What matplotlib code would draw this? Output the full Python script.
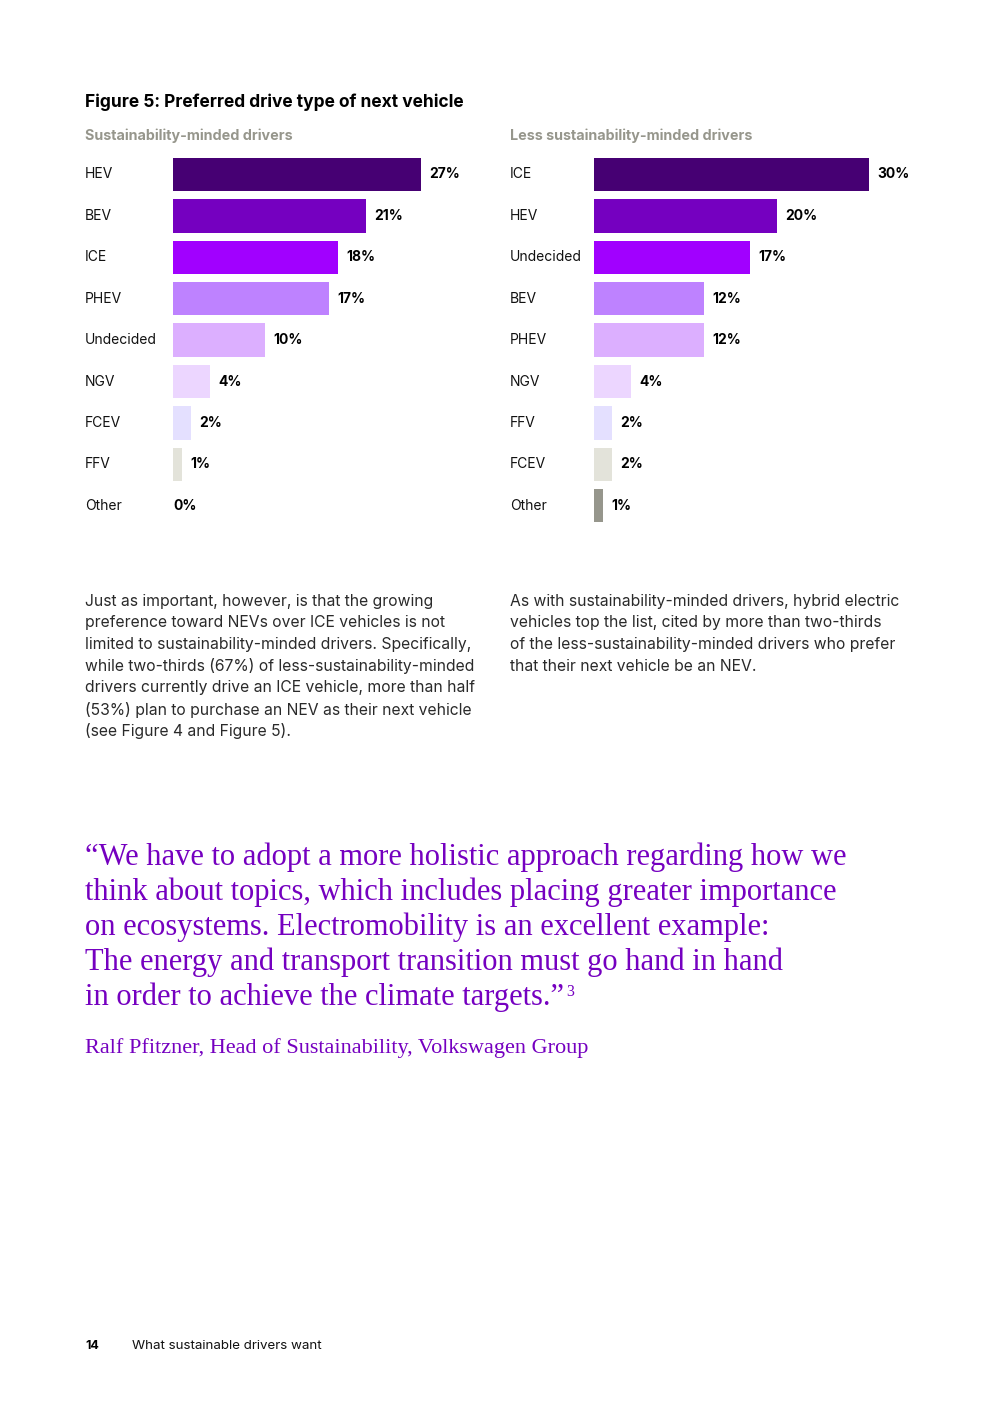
import matplotlib.pyplot as plt

W, H = 992, 1403

# data
left_cats = ["HEV", "BEV", "ICE", "PHEV", "Undecided", "NGV", "FCEV", "FFV", "Other"]
left_vals = [27, 21, 18, 17, 10, 4, 2, 1, 0]
right_cats = ["ICE", "HEV", "Undecided", "BEV", "PHEV", "NGV", "FFV", "FCEV", "Other"]
right_vals = [30, 20, 17, 12, 12, 4, 2, 2, 1]

left_colors = ["#460073", "#7500C0", "#A100FF", "#BE82FF", "#DCAFFF",
               "#ECD6FF", "#E4E0FF", "#E3E3DA", "#E3E3DA"]
right_colors = ["#460073", "#7500C0", "#A100FF", "#BE82FF", "#DCAFFF",
                "#ECD6FF", "#E4E0FF", "#E3E3DA", "#96968C"]

left_text = [
    "Just as important, however, is that the growing",
    "preference toward NEVs over ICE vehicles is not",
    "limited to sustainability-minded drivers. Specifically,",
    "while two-thirds (67%) of less-sustainability-minded",
    "drivers currently drive an ICE vehicle, more than half",
    "(53%) plan to purchase an NEV as their next vehicle",
    "(see Figure 4 and Figure 5).",
]
right_text = [
    "As with sustainability-minded drivers, hybrid electric",
    "vehicles top the list, cited by more than two-thirds",
    "of the less-sustainability-minded drivers who prefer",
    "that their next vehicle be an NEV.",
]
quote_lines = [
    "\u201cWe have to adopt a more holistic approach regarding how we",
    "think about topics, which includes placing greater importance",
    "on ecosystems. Electromobility is an excellent example:",
    "The energy and transport transition must go hand in hand",
    "in order to achieve the climate targets.\u201d",
]

SANS = ["Inter", "DejaVu Sans"]
SERIF = ["Liberation Serif", "DejaVu Serif"]

fig = plt.figure(figsize=(W / 100, H / 100), dpi=100)


def fx(x):
    return x / W


def fy(y):
    return 1 - y / H


def txt(x, y, s, **kw):
    kw.setdefault("family", SANS)
    kw.setdefault("va", "center")
    return fig.text(fx(x), fy(y), s, **kw)


px_per_pct = 9.17
row = 41.4


def bar_panel(x0, label_x, cats, vals, colors):
    top = 174.5 - row / 2
    ax = fig.add_axes([fx(x0), fy(top + 9 * row), 30 * px_per_pct / W, 9 * row / H])
    ys = list(range(len(cats)))
    ax.barh(ys, vals, height=0.81, color=colors)
    ax.set_xlim(0, 30)
    ax.set_ylim(len(cats) - 0.5, -0.5)
    ax.axis("off")
    for i, (c, v) in enumerate(zip(cats, vals)):
        off = 6 if v > 0 else 0
        ax.annotate(f"{v}%", (v, i), xytext=(off, 0), textcoords="offset points",
                    va="center", ha="left", fontsize=10, fontweight="bold",
                    family=SANS, color="#000000", annotation_clip=False)
        txt(label_x, 174.5 + i * row, c, fontsize=10, color="#111111")
    return ax


txt(85, 102, "Figure 5: Preferred drive type of next vehicle", fontsize=12.5,
    fontweight="bold", color="#000000")
txt(85, 136, "Sustainability-minded drivers", fontsize=10.3, fontweight="bold", color="#96968C")
txt(510, 136, "Less sustainability-minded drivers", fontsize=10.3, fontweight="bold", color="#96968C")

bar_panel(173, 85, left_cats, left_vals, left_colors)
bar_panel(594, 510, right_cats, right_vals, right_colors)

for i, line in enumerate(left_text):
    txt(85, 601 + i * 21.7, line, fontsize=11.3, color="#2a2a2a")
for i, line in enumerate(right_text):
    txt(510, 601 + i * 21.7, line, fontsize=11.3, color="#2a2a2a")

purple = "#7500C0"
for i, line in enumerate(quote_lines):
    t = txt(85, 857 + i * 35, line, fontsize=22, family=SERIF, color=purple)
fig.canvas.draw()
bb = t.get_window_extent()
fig.text(bb.x1 / W + 0.002, fy(992), "3", fontsize=11.5, family=SERIF, color=purple, va="center")

txt(85, 1048, "Ralf Pfitzner, Head of Sustainability, Volkswagen Group", fontsize=16,
    family=SERIF, color=purple)

txt(85, 1346, "14", fontsize=9, fontweight="bold", color="#000000")
txt(132, 1346, "What sustainable drivers want", fontsize=9.6, color="#111111")

fig.savefig("out.png", dpi=100)
